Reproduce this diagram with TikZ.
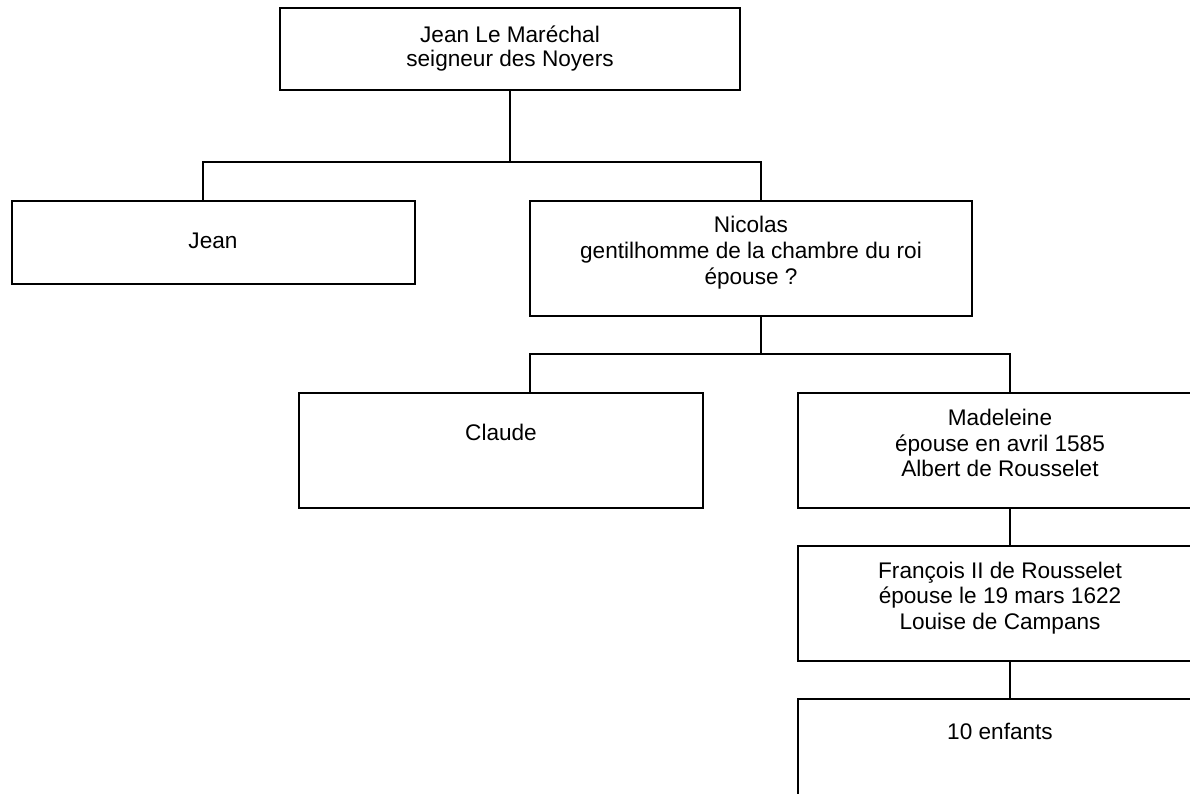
\documentclass[tikz,border=0pt]{standalone}
\usepackage{fontspec}
\setmainfont{Liberation Sans}
\begin{document}
\begin{tikzpicture}[x=1pt,y=-1pt,
  box/.style={draw, line width=1.3pt, rectangle, inner sep=0pt, outer sep=0pt, anchor=north west},
  txt/.style={anchor=base, inner sep=0pt, font=\fontsize{22.6}{25.5}\selectfont},
  link/.style={line width=1.3pt}]
\useasboundingbox (0,0) rectangle (1190,793);
\clip (0,0) rectangle (1190,793);
% boxes
\node[box, minimum width=460pt, minimum height=82pt]  (top)  at (280,8)   {};
\node[box, minimum width=403pt, minimum height=83pt]  (jean) at (12,201)  {};
\node[box, minimum width=442pt, minimum height=115pt] (nic)  at (530,201) {};
\node[box, minimum width=404pt, minimum height=115pt] (cla)  at (299,393) {};
\node[box, minimum width=404pt, minimum height=115pt] (mad)  at (798,393) {};
\node[box, minimum width=404pt, minimum height=115pt] (fra)  at (798,546) {};
\node[box, minimum width=404pt, minimum height=115pt] (enf)  at (798,699) {};
% texts
\node[txt] (top1) at (510,42)  {Jean Le Maréchal};
\node[txt] (top2) at (510,66)  {seigneur des Noyers};
\node[txt] (jean1) at (213,248) {Jean};
\node[txt] (nic1) at (751,232) {Nicolas};
\node[txt] (nic2) at (751,258) {gentilhomme de la chambre du roi};
\node[txt] (nic3) at (751,284) {épouse ?};
\node[txt] (cla1) at (501,440) {Claude};
\node[txt] (mad1) at (1000,425) {Madeleine};
\node[txt] (mad2) at (1000,451) {épouse en avril 1585};
\node[txt] (mad3) at (1000,476) {Albert de Rousselet};
\node[txt] (fra1) at (1000,578) {François II de Rousselet};
\node[txt] (fra2) at (1000,603) {épouse le 19 mars 1622};
\node[txt] (fra3) at (1000,629) {Louise de Campans};
\node[txt] (enf1) at (1000,739) {10 enfants};
% connector points
\coordinate (cT) at (510,162);
\coordinate (cJ) at (203,162);
\coordinate (cN) at (761,162);
\coordinate (dN) at (761,354);
\coordinate (dC) at (530,354);
\coordinate (dM) at (1010,354);
\coordinate (eM) at (1010,520);
% connectors
\draw[link] (top.south -| cT) -- (cT);
\draw[link] (jean.north -| cJ) -- (cJ) -- (cN) -- (nic.north -| cN);
\draw[link] (nic.south -| dN) -- (dN);
\draw[link] (cla.north -| dC) -- (dC) -- (dM) -- (mad.north -| dM);
\draw[link] (mad.south -| eM) -- (fra.north -| eM);
\draw[link] (fra.south -| eM) -- (enf.north -| eM);
\end{tikzpicture}
\end{document}
